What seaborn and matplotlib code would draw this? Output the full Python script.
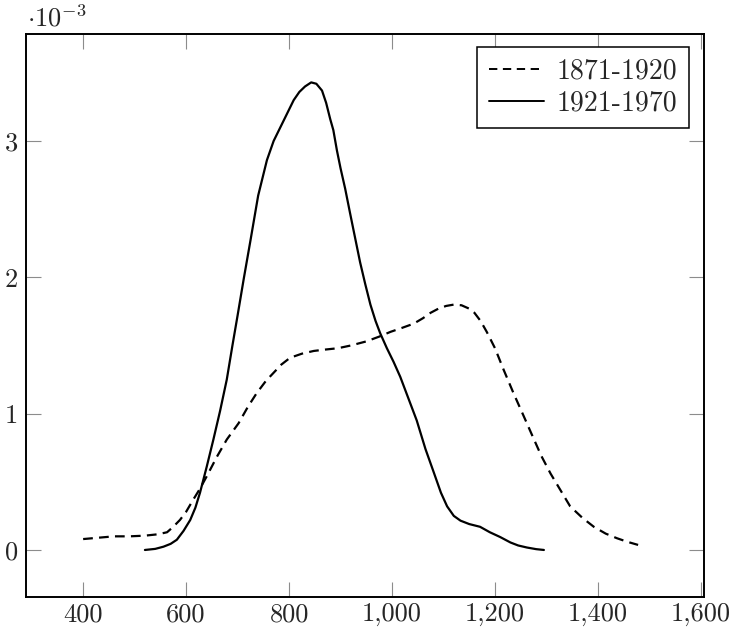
import numpy as np
import pandas as pd
import seaborn as sns
import matplotlib
matplotlib.use("Agg")
import matplotlib.pyplot as plt
from matplotlib.lines import Line2D

# ---- data (density, in units of 1e-3) ----
x_early = [400, 430, 460, 490, 520, 545, 563, 575, 588, 600, 614, 627, 640, 660,
           679, 702, 720, 737, 755, 770, 785, 802, 825, 848, 870, 895, 920, 950,
           975, 997, 1020, 1042, 1060, 1075, 1090, 1105, 1120, 1135, 1150, 1160,
           1172, 1184, 1200, 1217, 1236, 1256, 1270, 1290, 1308, 1327, 1346,
           1370, 1392, 1415, 1437, 1457, 1478]
y_early = [0.08, 0.09, 0.10, 0.10, 0.105, 0.115, 0.13, 0.17, 0.22, 0.28, 0.37,
           0.45, 0.54, 0.685, 0.81, 0.93, 1.05, 1.15, 1.24, 1.30, 1.36, 1.41,
           1.44, 1.46, 1.47, 1.48, 1.50, 1.53, 1.565, 1.60, 1.63, 1.66, 1.70,
           1.74, 1.77, 1.79, 1.80, 1.795, 1.77, 1.74, 1.68, 1.60, 1.48, 1.32,
           1.15, 0.98, 0.86, 0.69, 0.56, 0.44, 0.32, 0.235, 0.17, 0.12, 0.086,
           0.06, 0.037]

x_late = [520, 540, 556, 570, 582, 595, 608, 618, 627, 640, 653, 666, 679, 690,
          700, 712, 725, 740, 757, 770, 783, 796, 809, 820, 831, 843, 853, 864,
          872, 880, 886, 893, 900, 909, 918, 925, 938, 948, 958, 968, 977, 990,
          1003, 1016, 1030, 1048, 1065, 1081, 1095, 1107, 1120, 1133, 1150,
          1171, 1190, 1210, 1230, 1245, 1262, 1280, 1295]
y_late = [0.0, 0.008, 0.024, 0.045, 0.075, 0.14, 0.22, 0.31, 0.42, 0.61, 0.81,
          1.02, 1.25, 1.50, 1.72, 1.99, 2.27, 2.60, 2.86, 3.00, 3.10, 3.20,
          3.30, 3.36, 3.40, 3.43, 3.42, 3.37, 3.28, 3.16, 3.08, 2.93, 2.80,
          2.65, 2.48, 2.35, 2.11, 1.95, 1.80, 1.68, 1.59, 1.48, 1.38, 1.27,
          1.13, 0.95, 0.74, 0.57, 0.42, 0.32, 0.25, 0.215, 0.19, 0.17, 0.13,
          0.095, 0.055, 0.033, 0.018, 0.006, 0.0]

labels = ["1871-1920", "1921-1970"]
x_ticks = [400, 600, 800, 1000, 1200, 1400, 1600]
x_tick_labels = ["400", "600", "800", "1,000", "1,200", "1,400", "1,600"]
y_ticks = [0, 1, 2, 3]
y_tick_labels = ["0", "1", "2", "3"]

df = pd.concat([
    pd.DataFrame({"x": x_early, "y": y_early, "period": labels[0]}),
    pd.DataFrame({"x": x_late, "y": y_late, "period": labels[1]}),
])

sns.set_style("white")
plt.rcParams["font.family"] = ["cmr10", "DejaVu Serif"]
plt.rcParams["mathtext.fontset"] = "cm"
plt.rcParams["axes.formatter.use_mathtext"] = True
plt.rcParams["lines.scale_dashes"] = False
plt.rcParams["lines.solid_joinstyle"] = "round"
plt.rcParams["lines.dash_joinstyle"] = "round"

fig = plt.figure(figsize=(7.33, 6.32), dpi=100)
ax = fig.add_axes([26 / 733, 35 / 632, (704 - 26) / 733, (597 - 34) / 632])

sns.lineplot(data=df, x="x", y="y", style="period", color="black",
             dashes={labels[0]: (7, 4.5), labels[1]: ""}, sort=False,
             linewidth=1.6, ax=ax, legend=False)

ax.set_xlim(289, 1606)
ax.set_ylim(-0.345, 3.785)
ax.set_xticks(x_ticks)
ax.set_xticklabels(x_tick_labels)
ax.set_yticks(y_ticks)
ax.set_yticklabels(y_tick_labels)
ax.set_xlabel("")
ax.set_ylabel("")

ax.tick_params(axis="both", direction="in", length=10.5, width=0.8,
               color="#8c8c8c", labelsize=19, top=True, right=True,
               bottom=True, left=True)
ax.tick_params(axis="x", pad=4)
ax.tick_params(axis="y", pad=6)
for s in ax.spines.values():
    s.set_visible(True)
    s.set_color("black")
    s.set_linewidth(1.4)

ax.text(0.002, 1.004, r"$\cdot 10^{-3}$", transform=ax.transAxes,
        ha="left", va="bottom", fontsize=19)

handles = [Line2D([], [], color="black", linewidth=1.4, dashes=(6, 4)),
           Line2D([], [], color="black", linewidth=1.4)]
leg = ax.legend(handles, labels, loc="upper right", fontsize=20,
                frameon=True, fancybox=False, framealpha=1,
                edgecolor="black", handlelength=2.0, handletextpad=0.45,
                borderpad=0.42, labelspacing=0.18, borderaxespad=0,
                bbox_to_anchor=(1 - 15 / 678, 1 - 13 / 563))
leg.get_frame().set_linewidth(1.1)

fig.savefig("out.png", dpi=100)
